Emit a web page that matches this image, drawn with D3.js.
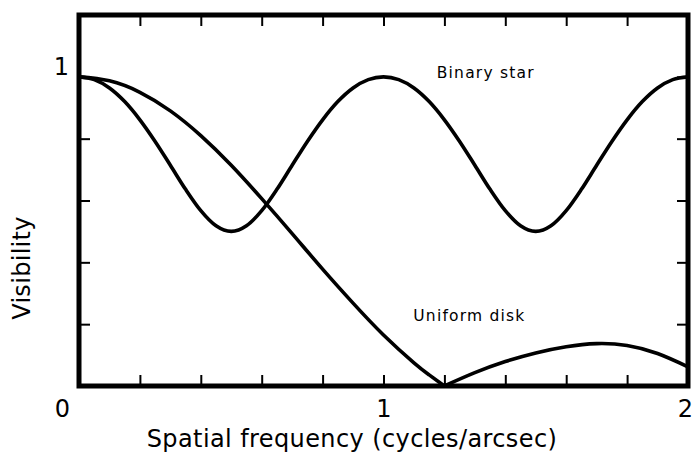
<!DOCTYPE html>
<html><head><meta charset="utf-8">
<script src="https://cdn.jsdelivr.net/npm/d3@7"></script>
<style>body{margin:0;background:#fff}svg{display:block}</style>
</head><body>
<svg id="c" width="696" height="453"></svg>
<script>
// ---- data ----
const binaryFreq = [0,0.05,0.1,0.15,0.2,0.25,0.3,0.35,0.4,0.45,0.5,0.55,0.6,0.65,0.7,0.75,0.8,0.85,0.9,0.95,1.0,
  1.05,1.1,1.15,1.2,1.25,1.3,1.35,1.4,1.45,1.5,1.55,1.6,1.65,1.7,1.75,1.8,1.85,1.9,1.95,2.0];
const binaryVis = [1.000,0.991,0.964,0.920,0.861,0.791,0.714,0.636,0.567,0.518,0.500,0.518,0.567,0.636,0.714,0.791,0.861,0.920,0.964,0.991,1.000,
  0.991,0.964,0.920,0.861,0.791,0.714,0.636,0.567,0.518,0.500,0.518,0.567,0.636,0.714,0.791,0.861,0.920,0.964,0.991,1.000];
const diskMainFreq = [0,0.1,0.2,0.3,0.4,0.5,0.6,0.7,0.8,0.9,1.0,1.1,1.15,1.2];
const diskMainVis  = [1.000,0.987,0.950,0.890,0.810,0.714,0.606,0.493,0.378,0.268,0.165,0.075,0.036,0.000];
const diskSideFreq = [1.2,1.3,1.4,1.5,1.6,1.7,1.8,1.9,2.0];
const diskSideVis  = [0.000,0.043,0.079,0.107,0.127,0.137,0.131,0.105,0.062];
const xMinorTicks = [0.2,0.4,0.6,0.8,1.0,1.2,1.4,1.6,1.8];
const yMinorTicks = [0.2,0.4,0.6,0.8,1.0];
const xTickLabels = [0,1,2];
const yTickLabels = [1];
const xTitle = "Spatial frequency (cycles/arcsec)";
const yTitle = "Visibility";
const annotations = [
  {text:"Binary star", u:1.175, v:1.015},
  {text:"Uniform disk", u:1.098, v:0.227}
];

// ---- layout ----
const L = 79, R = 688, T = 15, B = 386;
const font = "'DejaVu Sans', sans-serif";
const svg = d3.select("#c");
const x = d3.scaleLinear().domain([0,2]).range([L,R]);
const y = d3.scaleLinear().domain([0,1.2]).range([B,T]);

// inward ticks on all four sides
function ticks(axis, tx, ty){
  const g = svg.append("g").attr("transform",`translate(${tx},${ty})`).call(axis);
  g.select(".domain").remove();
  g.selectAll("line").attr("stroke","#000").attr("stroke-width",2);
  g.selectAll("text").remove();
  return g;
}
ticks(d3.axisBottom(x).tickValues(xMinorTicks).tickSize(-11), 0, B);
ticks(d3.axisTop(x).tickValues(xMinorTicks).tickSize(-11), 0, T);
ticks(d3.axisLeft(y).tickValues(yMinorTicks).tickSize(-11), L, 0);
ticks(d3.axisRight(y).tickValues(yMinorTicks).tickSize(-11), R, 0);

// tick labels
const gx = svg.append("g").attr("transform",`translate(0,${B})`)
  .call(d3.axisBottom(x).tickValues(xTickLabels).tickSize(0).tickPadding(14).tickFormat(d3.format("d")));
gx.select(".domain").remove();
gx.selectAll("text").attr("font-family",font).attr("font-size",24).attr("fill","#000")
  .attr("dx",d=> d===0 ? -17 : (d===2 ? -3 : 0));
const gy = svg.append("g").attr("transform",`translate(${L},0)`)
  .call(d3.axisLeft(y).tickValues(yTickLabels).tickSize(0).tickPadding(10).tickFormat(d3.format("d")));
gy.select(".domain").remove();
gy.selectAll("text").attr("font-family",font).attr("font-size",24).attr("fill","#000").attr("dy","-0.1em");

// curves
const line = d3.line().x(d=>x(d[0])).y(d=>y(d[1]));
function drawCurve(fx, fv, curve){
  svg.append("path").datum(d3.zip(fx,fv))
    .attr("d", line.curve(curve))
    .attr("fill","none").attr("stroke","#000").attr("stroke-width",3.6)
    .attr("stroke-linejoin","round").attr("stroke-linecap","round");
}
drawCurve(binaryFreq, binaryVis, d3.curveMonotoneX);
drawCurve(diskMainFreq, diskMainVis, d3.curveNatural);
drawCurve(diskSideFreq, diskSideVis, d3.curveNatural);

// frame
svg.append("rect").attr("x",L).attr("y",T).attr("width",R-L).attr("height",B-T)
  .attr("fill","none").attr("stroke","#000").attr("stroke-width",5);

// annotations
svg.selectAll("text.ann").data(annotations).join("text").attr("class","ann")
  .attr("x",d=>x(d.u)).attr("y",d=>y(d.v)).attr("dy","0.35em")
  .attr("font-family",font).attr("font-size",15.5).attr("letter-spacing",1.2)
  .attr("fill","#000").text(d=>d.text);

// axis titles
svg.append("text").attr("x",352).attr("y",447).attr("text-anchor","middle")
  .attr("font-family",font).attr("font-size",24).attr("letter-spacing",0.4).attr("fill","#000").text(xTitle);
svg.append("text").attr("transform",`translate(30,268) rotate(-90)`).attr("text-anchor","middle")
  .attr("font-family",font).attr("font-size",24).attr("letter-spacing",0.3).attr("fill","#000").text(yTitle);
</script>
</body></html>
